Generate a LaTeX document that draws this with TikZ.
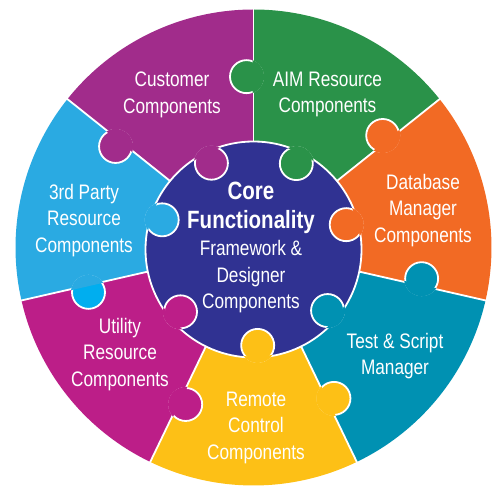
\documentclass[tikz,border=0pt]{standalone}
\usepackage{fontspec}
\setmainfont{Liberation Sans}[FakeStretch=0.82]
\usetikzlibrary{calc}
\definecolor{cpurple}{RGB}{161,44,139}
\definecolor{cgreen}{RGB}{42,146,73}
\definecolor{corange}{RGB}{242,106,36}
\definecolor{cteal}{RGB}{0,145,178}
\definecolor{cyellow}{RGB}{253,192,22}
\definecolor{cmagenta}{RGB}{188,30,136}
\definecolor{cblue}{RGB}{42,170,226}
\definecolor{cblueknob}{RGB}{0,174,239}
\definecolor{ccore}{RGB}{48,50,146}
% sector of the outer ring
\newcommand\mkPiece[3]{\fill[#1] (0,0) -- (#2:238pt) arc[start angle=#2, end angle=#3, radius=238pt] -- cycle;}
% knob on a radial divider: #1 divider angle, #2 owner colour, #3 knob colour
\newcommand\mkOuterKnob[3]{%
  \coordinate (kc) at ({#1+2.35}:171pt);
  \filldraw[knob, fill=#3] (kc) circle[radius=16.5pt];
  \fill[#2] ($(kc)+({#1-19.97}:17.6pt)$) arc[start angle={#1-19.97}, end angle={#1-160.03}, radius=17.6pt] -- cycle;}
% knob of an outer piece going into the core: #1 angle, #2 colour
\newcommand\mkCoreIn[2]{%
  \filldraw[knob, fill=#2] (#1:96pt) circle[radius=16.5pt];
  \fill[#2] ({#1-7.77}:107pt) arc[start angle={#1-7.77}, end angle={#1+7.77}, radius=107pt]
     arc[start angle={#1+55.31}, end angle={#1-55.31}, radius=17.6pt] -- cycle;}
\begin{document}
\begin{tikzpicture}[x=1pt,y=1pt,
  lbl/.style={text=white, align=center, inner sep=0pt, font=\fontsize{21}{26.5}\selectfont},
  corettl/.style={text=white, align=center, inner sep=0pt, font=\fontsize{25}{29}\selectfont\bfseries},
  divider/.style={draw=white, line width=1.8pt},
  knob/.style={draw=white, line width=1.8pt}]
\useasboundingbox (0,-486) rectangle (499,0);
\begin{scope}[shift={(253.5,-247.5)}]
  % ring pieces
  \mkPiece{cgreen}{38.571}{90}
  \mkPiece{corange}{-12.857}{38.571}
  \mkPiece{cteal}{-64.286}{-12.857}
  \mkPiece{cyellow}{-115.714}{-64.286}
  \mkPiece{cmagenta}{-167.143}{-115.714}
  \mkPiece{cblue}{141.429}{192.857}
  \mkPiece{cpurple}{90}{141.429}
  % dividers
  \foreach \a in {90,38.571,-12.857,-64.286,-115.714,-167.143,141.429}
    \draw[divider] (\a:100pt) -- (\a:242pt);
  % knobs on the dividers
  \mkOuterKnob{90}{cgreen}{cgreen}
  \mkOuterKnob{38.571}{corange}{corange}
  \mkOuterKnob{-12.857}{cteal}{cteal}
  \mkOuterKnob{-64.286}{cyellow}{cyellow}
  \mkOuterKnob{-115.714}{cmagenta}{cmagenta}
  \mkOuterKnob{-167.143}{cblue}{cblueknob}
  \mkOuterKnob{141.429}{cpurple}{cpurple}
\end{scope}
\begin{scope}[shift={(253.5,-249.5)}]
  % core
  \filldraw[knob, fill=ccore] (0,0) circle[radius=108pt];
  % knobs of the ring pieces into the core
  \mkCoreIn{116}{cpurple}
  \mkCoreIn{63.5}{cgreen}
  \mkCoreIn{15}{corange}
  \mkCoreIn{-39.5}{cteal}
  \mkCoreIn{-87.5}{cyellow}
  \mkCoreIn{-139.5}{cmagenta}
  \mkCoreIn{162}{cblue}
\end{scope}
% labels
\node[lbl] (cust) at (172,-94.7) {Customer\\Components};
\node[lbl] (aim) at (327.5,-94.7) {AIM Resource\\Components};
\node[lbl] (db) at (423,-210.5) {Database\\Manager\\Components};
\node[lbl] (test) at (395,-356.2) {Test \& Script\\Manager};
\node[lbl] (remote) at (256,-427.5) {Remote\\Control\\Components};
\node[lbl] (util) at (120,-354.5) {Utility\\Resource\\Components};
\node[lbl] (third) at (84,-220.5) {3rd Party\\Resource\\Components};
\node[corettl] (coretitle) at (251,-207.9) {Core\\Functionality};
\node[lbl] (coresub) at (251,-277) {Framework \&\\Designer\\Components};
\end{tikzpicture}
\end{document}
